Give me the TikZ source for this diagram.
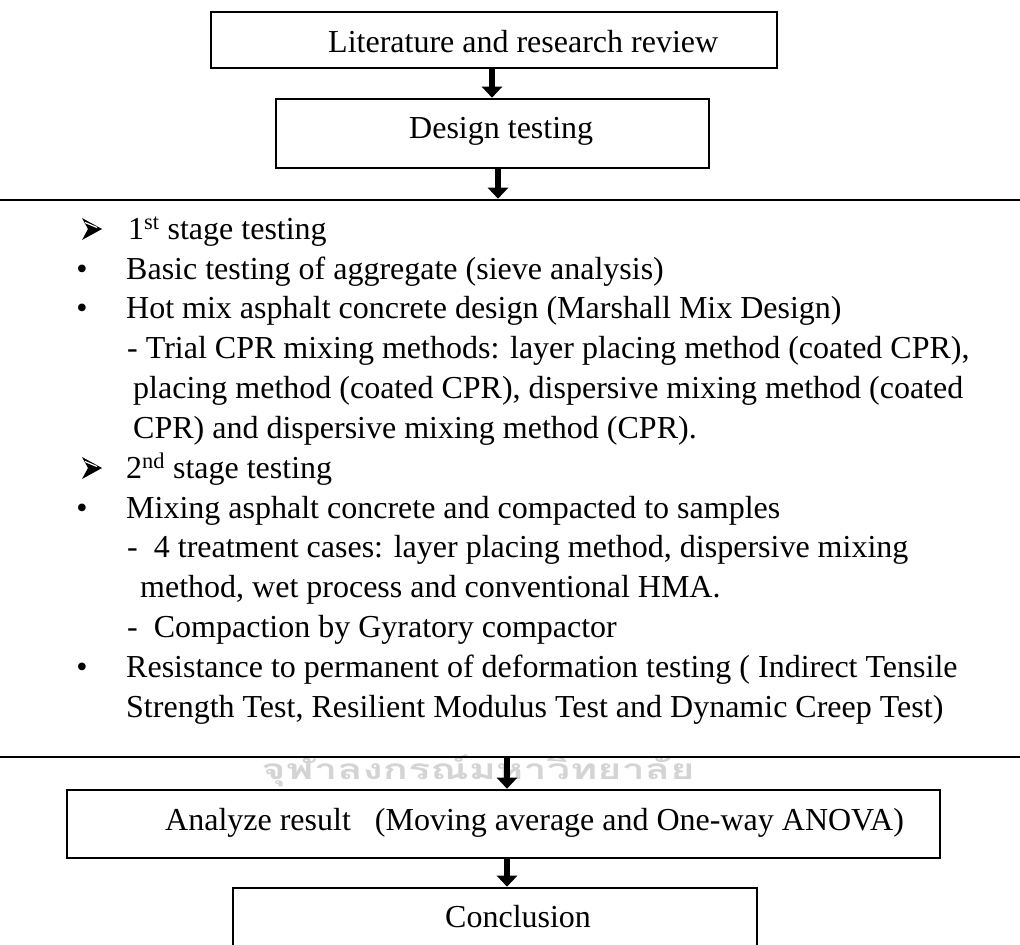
\documentclass[tikz,border=0pt]{standalone}
\usepackage{fontspec}
\usepackage{graphicx}
\setmainfont{Liberation Serif}
\newfontfamily\thaifont[Script=Thai]{Loma}
\usetikzlibrary{arrows.meta}
\begin{document}
\begin{tikzpicture}[x=1pt,y=-1pt,
  flowbox/.style={draw, line width=2.6pt, fill=white, inner sep=0pt, rectangle},
  flowarrow/.style={line width=6pt, -{Triangle[width=20pt,length=11pt]}},
  txt/.style={anchor=base west, inner sep=0pt, font=\fontsize{32}{38}\selectfont},
  bul/.style={anchor=base, inner sep=0pt, font=\fontsize{32}{38}\selectfont},
  arrowbullet/.pic={
    \fill (0,-11) -- (20,0) -- (0,11) -- (6,0) -- cycle;
    \draw[white, line width=1.2pt] (3,-6.5) -- (15,-1.5);
  }
]
\useasboundingbox (0,0) rectangle (1020,945);
\clip (0,0) rectangle (1020,945);

% watermark
\node[inner sep=0pt, text=black!17] (wm) at (478,771)
  {\resizebox*{433pt}{32pt}{\thaifont\bfseries จุฬาลงกรณ์มหาวิทยาลัย}};

% boxes
\node[flowbox, minimum width=566pt, minimum height=56pt] (b1) at (494,40) {};
\node[flowbox, minimum width=433pt, minimum height=69pt] (b2) at (492.5,133.5) {};
\node[draw, line width=2.6pt, inner sep=0pt, rectangle, minimum width=1040pt, minimum height=557pt] (big) at (510,478.5) {};
\node[flowbox, minimum width=873pt, minimum height=68pt] (b4) at (503.5,824) {};
\node[flowbox, minimum width=524pt, minimum height=112pt] (b5) at (495,944) {};

% box texts
\node[txt] (l1) at (328,52) {Literature and research review};
\node[txt] (l2) at (409,138) {Design testing};
\node[txt] (l4) at (165,830) {Analyze result\ \ \ (Moving average and One-way ANOVA)};
\node[txt] (l5) at (445,927) {Conclusion};

% big box contents
\pic at (82,229) {arrowbullet};
\node[txt] (t1) at (128,239) {1\textsuperscript{st} stage testing};
\node[bul] (p2) at (82,279) {•};
\node[txt] (t2) at (126,279) {Basic testing of aggregate (sieve analysis)};
\node[bul] (p3) at (82,318) {•};
\node[txt] (t3) at (126,318) {Hot mix asphalt concrete design (Marshall Mix Design)};
\node[txt] (t4) at (127,358) {- Trial CPR mixing methods: layer placing method (coated CPR),};
\node[txt] (t5) at (133,398) {placing method (coated CPR), dispersive mixing method (coated};
\node[txt] (t6) at (133,438) {CPR) and dispersive mixing method (CPR).};
\pic at (82,468) {arrowbullet};
\node[txt] (t7) at (126,478) {2\textsuperscript{nd} stage testing};
\node[bul] (p8) at (82,518) {•};
\node[txt] (t8) at (126,518) {Mixing asphalt concrete and compacted to samples};
\node[txt] (t9) at (127,557) {-\ \ 4 treatment cases: layer placing method, dispersive mixing};
\node[txt] (t10) at (140,597) {method, wet process and conventional HMA.};
\node[txt] (t11) at (127,637) {-\ \ Compaction by Gyratory compactor};
\node[bul] (p12) at (82,677) {•};
\node[txt] (t12) at (126,677) {Resistance to permanent of deformation testing ( Indirect Tensile};
\node[txt] (t13) at (126,717) {Strength Test, Resilient Modulus Test and Dynamic Creep Test)};

% connectors
\coordinate (a1) at (492,0);
\coordinate (a2) at (498,0);
\coordinate (a3) at (507,0);
\draw[flowarrow] (b1.south -| a1) -- (b2.north -| a1);
\draw[flowarrow] (b2.south -| a2) -- (big.north -| a2);
\draw[flowarrow] (big.south -| a3) -- (b4.north -| a3);
\draw[flowarrow] (b4.south -| a3) -- (b5.north -| a3);
\end{tikzpicture}
\end{document}
